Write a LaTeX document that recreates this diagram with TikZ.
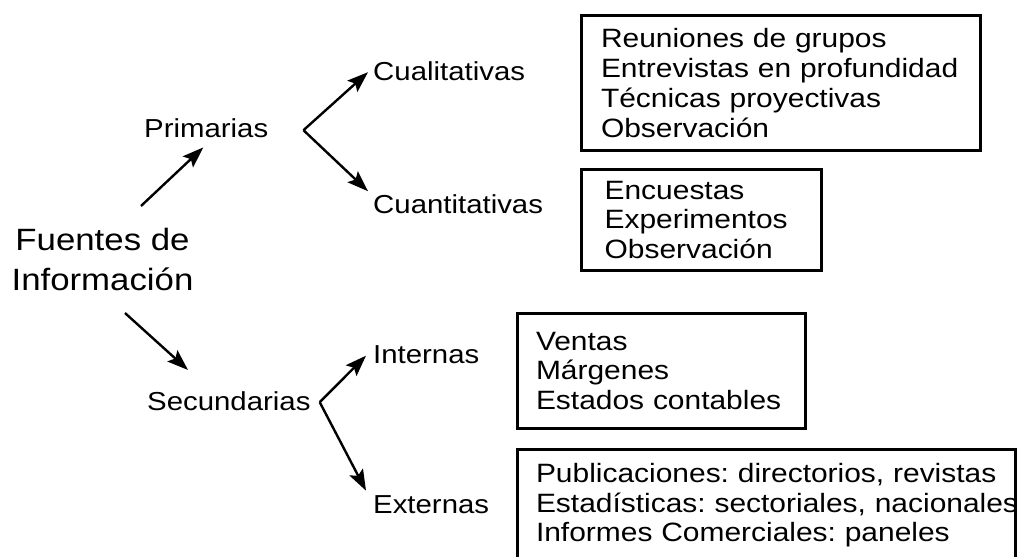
\documentclass[tikz,border=0pt]{standalone}
\usepackage{fontspec}
\setmainfont[FakeStretch=1.13]{Liberation Sans}
\usetikzlibrary{arrows.meta, positioning, calc}

\begin{document}
\frenchspacing
\begin{tikzpicture}[x=1pt,y=-1pt,
    etiq/.style={anchor=base west,inner sep=0pt,font=\fontsize{26}{30}\selectfont},
    caja/.style={draw,line width=3pt,outer sep=0pt,anchor=north west,align=left,inner ysep=0pt,font=\fontsize{26.5}{29.8}\selectfont},
    flecha/.style={-{Stealth[length=21pt,width=15pt,inset=4pt]},line width=2.4pt}]
  \useasboundingbox (0,0) rectangle (1023,557);

  \node[font=\fontsize{30.8}{40}\selectfont,align=center,inner sep=0pt,anchor=north] (F) at (102.5,228) {Fuentes de\\Información};
  \node[etiq] (P) at (144,137) {Primarias};
  \node[etiq] (S) at (147,410) {Secundarias};
  \node[etiq] (C1) at (373,80) {Cualitativas};
  \node[etiq] (C2) at (373,213) {Cuantitativas};
  \node[etiq] (I) at (373,363) {Internas};
  \node[etiq] (X) at (373,513) {Externas};

  % cajas con las listas
  \node[caja,text width=360pt,inner xsep=19.5pt,minimum height=135pt] (T1) at (581.5,15.5) {Reuniones de grupos\\Entrevistas en profundidad\\Técnicas proyectivas\\Observación};
  \node[caja,text width=193.8pt,inner xsep=23.1pt,minimum height=101pt] (T2) at (581.5,169.5) {Encuestas\\Experimentos\\Observación};
  \node[caja,text width=251pt,inner xsep=18.5pt,minimum height=115pt] (T3) at (517.5,313.5) {Ventas\\Márgenes\\Estados contables};
  \node[caja,text width=461pt,inner xsep=18.5pt,minimum height=111.6pt] (T4) at (517.5,449.5) {\mbox{Publicaciones: directorios, revistas}\\\mbox{Estadísticas: sectoriales, nacionales}\\Informes Comerciales: paneles};

  \coordinate (pv) at ($(P.east)+(35,2.5)$); % vertice de Primarias
  \coordinate (sv) at ($(S.east)+(9,1.5)$); % vertice de Secundarias

  \draw[flecha] ($(F.north)+(38.5,-22)$) -- ($(P.south)+(-3,10)$);
  \draw[flecha] ($(F.south)+(22.5,22)$) -- ($(S.north west)+(41,-21)$);
  \draw[flecha] (pv) -- ($(C1.west)+(-5,1.5)$);
  \draw[flecha] (pv) -- ($(C2.west)+(-5,-12.5)$);
  \draw[flecha] (sv) -- ($(I.west)+(-7,1.5)$);
  \draw[flecha] (sv) -- ($(X.west)+(-7,-13.5)$);
\end{tikzpicture}
\end{document}
